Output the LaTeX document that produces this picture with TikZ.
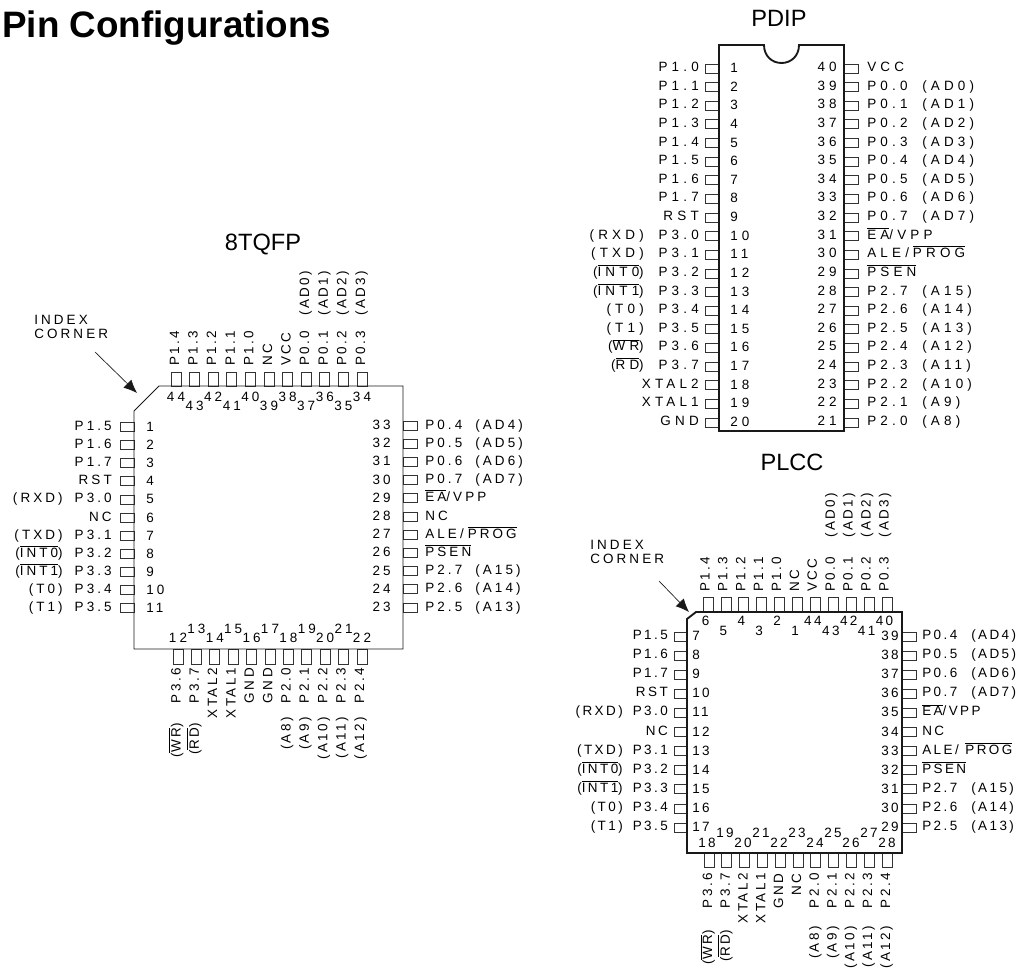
\documentclass[tikz,border=0pt]{standalone}
\usepackage{fontspec}
\setmainfont{Liberation Sans}
\newfontfamily\tqfam[LetterSpace=23]{Liberation Sans}
\newfontfamily\dipfam[LetterSpace=31]{Liberation Sans}
\newfontfamily\plfam[LetterSpace=18]{Liberation Sans}
\usetikzlibrary{arrows.meta}
\newcommand{\ovl}[1]{$\overline{\mbox{#1}}$}
\tikzset{
	tlbl/.style={font=\tqfam\fontsize{10.1}{10.5}\selectfont,inner sep=0pt},
	dlbl/.style={font=\dipfam\fontsize{10.1}{10.5}\selectfont,inner sep=0pt},
	plbl/.style={font=\plfam\fontsize{10.1}{10.5}\selectfont,inner sep=0pt},
	pkgtitle/.style={font=\fontsize{17.7}{20}\selectfont,inner sep=0pt},
	pinbox/.style={draw=black!80,line width=0.6pt},
	pkgbody/.style={draw=black!90,line width=1.4pt},
	thinbody/.style={draw=black!90,line width=0.7pt},
	idxarrow/.style={-{Latex[length=10pt,width=8.5pt]},black!90,line width=0.5pt}
}

\begin{document}
\begin{tikzpicture}[x=0.75pt,y=-0.75pt]
	\useasboundingbox (0,0) rectangle (1017,970);
	\clip (0,0) rectangle (1017,970);

	\node[anchor=base west,inner sep=0pt,font=\bfseries\fontsize{27.6}{30}\selectfont] (title) at (2,38) {Pin Configurations};

	%8TQFP
	\node[pkgtitle] (tname) at (263,244) {8TQFP};
	\foreach \n/\lbl [count=\i from 0] in {1/P1.5,2/P1.6,3/P1.7,4/RST,5/P3.0,6/NC,7/P3.1,8/P3.2,9/P3.3,10/P3.4,11/P3.5} {
		\draw[pinbox] (120,{422.5+\i*18.1}) rectangle ++(14,9);
		\node[tlbl,anchor=mid east] (tl\n) at (112,{427+\i*18.1}) {\lbl};
		\node[tlbl,anchor=mid west] (tn\n) at (146,{428+\i*18.1}) {\n};
	}
	\foreach \i/\alt in {4/(RXD),6/(TXD),7/(\ovl{INT0}),8/(\ovl{INT1}),9/(T0),10/(T1)} {
		\node[tlbl,anchor=mid east] (tal\i) at (63,{427+\i*18.1}) {\alt};
	}
	\foreach \n/\lbl [count=\i from 0] in {33/P0.4,32/P0.5,31/P0.6,30/P0.7,29/{\ovl{EA}/VPP},28/NC,27/{ALE/\kern3pt\ovl{PROG}},26/\ovl{PSEN},25/P2.7,24/P2.6,23/P2.5} {
		\draw[pinbox] (403,{421+\i*18.2}) rectangle ++(14,9);
		\node[tlbl,anchor=mid west] (tr\n) at (425,{425.5+\i*18.2}) {\lbl};
		\node[tlbl,anchor=mid east] (tn\n) at (391,{426+\i*18.2}) {\n};
	}
	\foreach \i/\alt in {0/(AD4),1/(AD5),2/(AD6),3/(AD7),8/(A15),9/(A14),10/(A13)} {
		\node[tlbl,anchor=mid west] (tar\i) at (475,{425.5+\i*18.2}) {\alt};
	}
	\foreach \n/\lbl [count=\i from 0] in {44/P1.4,43/P1.3,42/P1.2,41/P1.1,40/P1.0,39/NC,38/VCC,37/P0.0,36/P0.1,35/P0.2,34/P0.3} {
		\draw[pinbox] ({171+\i*18.6},372) rectangle ++(10,14);
		\node[plbl,anchor=mid west,rotate=90] (tt\n) at ({175.5+\i*18.6},366) {\lbl};
		\node[tlbl] (tn\n) at ({176+\i*18.6},{int(mod(\i,2))==0 ? 397 : 406}) {\n};
	}
	\foreach \i/\alt in {7/(AD0),8/(AD1),9/(AD2),10/(AD3)} {
		\node[plbl,anchor=mid west,rotate=90] (tat\i) at ({175.5+\i*18.6},316) {\alt};
	}
	\foreach \n/\lbl [count=\i from 0] in {12/P3.6,13/P3.7,14/XTAL2,15/XTAL1,16/GND,17/GND,18/P2.0,19/P2.1,20/P2.2,21/P2.3,22/P2.4} {
		\draw[pinbox] ({173+\i*18.4},649) rectangle ++(10,15);
		\node[plbl,anchor=mid east,rotate=90] (tb\n) at ({177+\i*18.35},668) {\lbl};
		\node[tlbl] (tn\n) at ({178+\i*18.4},{int(mod(\i,2))==0 ? 638 : 629}) {\n};
	}
	\foreach \i/\alt/\top in {0/(\ovl{WR})/723,1/(\ovl{RD})/723,6/(A8)/717,7/(A9)/717,8/(A10)/717,9/(A11)/717,10/(A12)/717} {
		\node[plbl,anchor=mid east,rotate=90] (tab\i) at ({177+\i*18.35},\top) {\alt};
	}
	\draw[thinbody] (159,386) -- (403,386) -- (403,649) -- (134,649) -- (134,411) -- cycle;
	\node[tlbl,anchor=mid west,align=left] (tidx) at (34,335) {INDEX\\CORNER};
	\coordinate (tfrom) at (95,352);
	\coordinate (ttip) at (137,393);
	\draw[idxarrow] (tfrom) -- (ttip);

	%PDIP
	\node[pkgtitle] (dname) at (779,18) {PDIP};
	\foreach \n/\lbl [count=\i from 0] in {1/P1.0,2/P1.1,3/P1.2,4/P1.3,5/P1.4,6/P1.5,7/P1.6,8/P1.7,9/RST,10/P3.0,11/P3.1,12/P3.2,13/P3.3,14/P3.4,15/P3.5,16/P3.6,17/P3.7,18/XTAL2,19/XTAL1,20/GND} {
		\draw[pinbox] (705,{64+\i*18.63}) rectangle ++(14,9);
		\node[dlbl,anchor=mid east] (dl\n) at (699,{68+\i*18.63}) {\lbl};
		\node[dlbl,anchor=mid west] (dn\n) at (730,{69+\i*18.63}) {\n};
	}
	\foreach \i/\alt in {9/(RXD),10/(TXD),11/(\ovl{INT0}),12/(\ovl{INT1}),13/(T0),14/(T1),15/(\ovl{WR}),16/(\ovl{RD})} {
		\node[dlbl,anchor=mid east] (dal\i) at (644,{68+\i*18.63}) {\alt};
	}
	\foreach \n/\lbl [count=\i from 0] in {40/VCC,39/P0.0,38/P0.1,37/P0.2,36/P0.3,35/P0.4,34/P0.5,33/P0.6,32/P0.7,31/{\ovl{EA}/VPP},30/{ALE/\kern3pt\ovl{PROG}},29/\ovl{PSEN},28/P2.7,27/P2.6,26/P2.5,25/P2.4,24/P2.3,23/P2.2,22/P2.1,21/P2.0} {
		\draw[pinbox] (844,{64+\i*18.63}) rectangle ++(14,9);
		\node[dlbl,anchor=mid west] (dr\n) at (867,{68+\i*18.63}) {\lbl};
		\node[dlbl,anchor=mid east] (dn\n) at (837,{68+\i*18.63}) {\n};
	}
	\foreach \i/\alt in {1/(AD0),2/(AD1),3/(AD2),4/(AD3),5/(AD4),6/(AD5),7/(AD6),8/(AD7),12/(A15),13/(A14),14/(A13),15/(A12),16/(A11),17/(A10),18/(A9),19/(A8)} {
		\node[dlbl,anchor=mid west] (dar\i) at (922,{68+\i*18.63}) {\alt};
	}
	\draw[pkgbody] (719,45) -- (764,45) .. controls (764,56) and (772,63) .. (781.5,63) .. controls (791,63) and (799,56) .. (799,45) -- (844,45) -- (844,431) -- (719,431) -- cycle;

	%PLCC
	\node[pkgtitle] (pname) at (792,462) {PLCC};
	\foreach \n/\lbl [count=\i from 0] in {7/P1.5,8/P1.6,9/P1.7,10/RST,11/P3.0,12/NC,13/P3.1,14/P3.2,15/P3.3,16/P3.4,17/P3.5} {
		\draw[pinbox] (674,{632+\i*19.1}) rectangle ++(13,9);
		\node[plbl,anchor=mid east] (pl\n) at (668,{636+\i*19.1}) {\lbl};
		\node[plbl,anchor=mid west] (pn\n) at (692,{637+\i*19.1}) {\n};
	}
	\foreach \i/\alt in {4/(RXD),6/(TXD),7/(\ovl{INT0}),8/(\ovl{INT1}),9/(T0),10/(T1)} {
		\node[plbl,anchor=mid east] (pal\i) at (623,{636+\i*19.1}) {\alt};
	}
	\foreach \n/\lbl [count=\i from 0] in {39/P0.4,38/P0.5,37/P0.6,36/P0.7,35/{\ovl{EA}/VPP},34/NC,33/{ALE/\kern5pt\ovl{PROG}},32/\ovl{PSEN},31/P2.7,30/P2.6,29/P2.5} {
		\draw[pinbox] (902,{632+\i*19.1}) rectangle ++(14,9);
		\node[plbl,anchor=mid west] (pr\n) at (922,{636+\i*19.1}) {\lbl};
		\node[plbl,anchor=mid east] (pn\n) at (899,{637+\i*19.1}) {\n};
	}
	\foreach \i/\alt in {0/(AD4),1/(AD5),2/(AD6),3/(AD7),8/(A15),9/(A14),10/(A13)} {
		\node[plbl,anchor=mid west] (par\i) at (971,{636+\i*19.1}) {\alt};
	}
	\foreach \n/\lbl [count=\i from 0] in {6/P1.4,5/P1.3,4/P1.2,3/P1.1,2/P1.0,1/NC,44/VCC,43/P0.0,42/P0.1,41/P0.2,40/P0.3} {
		\draw[pinbox] ({703+\i*17.9},597) rectangle ++(10,15);
		\node[plbl,anchor=mid west,rotate=90] (pt\n) at ({706+\i*17.9},592) {\lbl};
		\node[plbl] (pn\n) at ({705.5+\i*17.9},{int(mod(\i,2))==0 ? 621 : 631}) {\n};
	}
	\foreach \i/\alt in {7/(AD0),8/(AD1),9/(AD2),10/(AD3)} {
		\node[plbl,anchor=mid west,rotate=90] (pat\i) at ({706+\i*17.9},538) {\alt};
	}
	\foreach \n/\lbl [count=\i from 0] in {18/P3.6,19/P3.7,20/XTAL2,21/XTAL1,22/GND,23/NC,24/P2.0,25/P2.1,26/P2.2,27/P2.3,28/P2.4} {
		\draw[pinbox] ({704+\i*17.8},853) rectangle ++(10,14);
		\node[plbl,anchor=mid east,rotate=90] (pb\n) at ({708.5+\i*17.8},873) {\lbl};
		\node[plbl] (pn\n) at ({707+\i*18},{int(mod(\i,2))==0 ? 843 : 833}) {\n};
	}
	\foreach \i/\alt/\top in {0/(\ovl{WR})/930,1/(\ovl{RD})/930,6/(A8)/926,7/(A9)/926,8/(A10)/926,9/(A11)/926,10/(A12)/926} {
		\node[plbl,anchor=mid east,rotate=90] (pab\i) at ({708.5+\i*17.8},\top) {\alt};
	}
	\draw[pkgbody] (696,612) -- (902,612) -- (902,853) -- (687,853) -- (687,619) -- cycle;
	\node[tlbl,anchor=mid west,align=left] (pidx) at (590,560) {INDEX\\CORNER};
	\coordinate (pfrom) at (659,581);
	\coordinate (ptip) at (689,612);
	\draw[idxarrow] (pfrom) -- (ptip);
\end{tikzpicture}
\end{document}
